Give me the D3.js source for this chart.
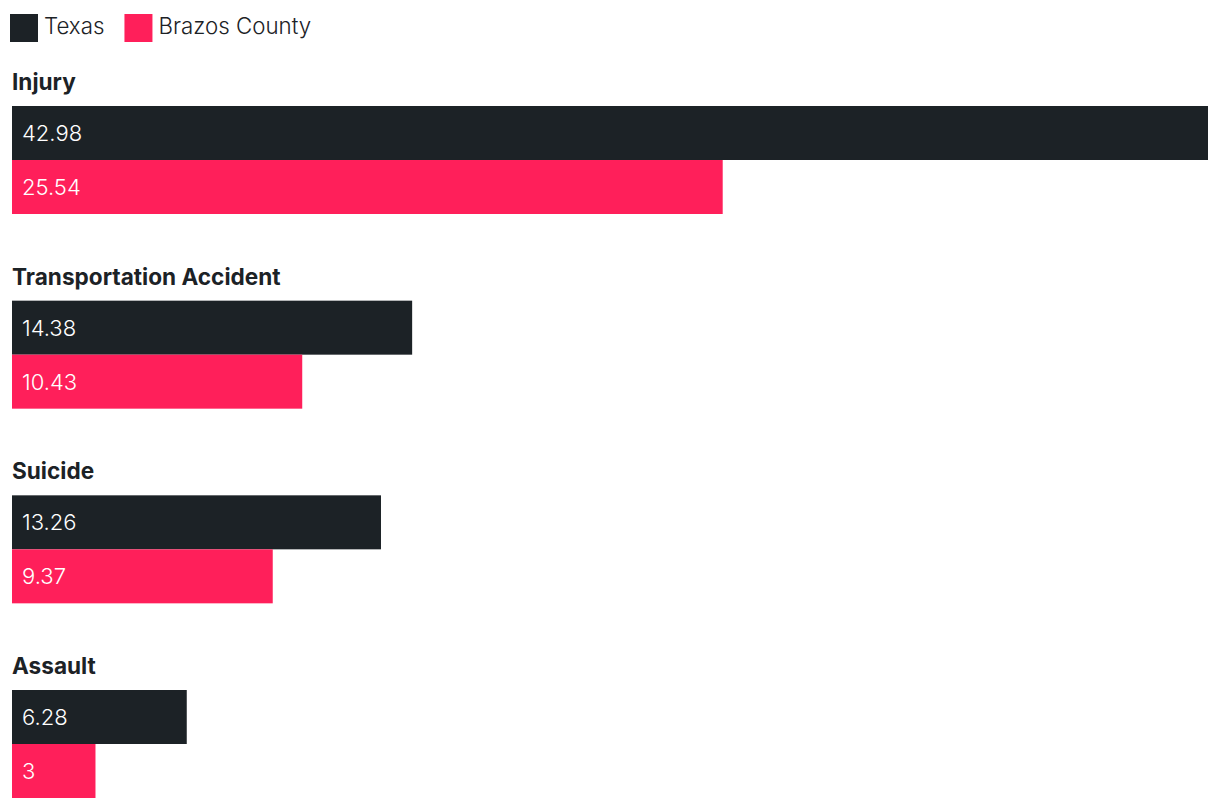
<!DOCTYPE html>
<html><head><meta charset="utf-8">
<script src="https://cdn.jsdelivr.net/npm/d3@7"></script>
<style>body{margin:0;background:#fff;}svg{display:block;font-family:Inter,"Noto Sans",sans-serif;}</style>
</head><body>
<svg id="c" width="1220" height="808"></svg>
<script>
const categories = ["Injury","Transportation Accident","Suicide","Assault"];
const seriesNames = ["Texas","Brazos County"];
const texasValues = [42.98,14.38,13.26,6.28];
const brazosValues = [25.54,10.43,9.37,3];
const colors = ["#1c2226","#ff1f5a"];

const svg = d3.select("#c");
const x = d3.scaleLinear().domain([0, d3.max(texasValues)]).range([12, 1208]);
const yGroup = d3.scalePoint().domain(categories).range([106, 690]);
const barH = 54;
const series = [texasValues, brazosValues];

// legend
let lx = 10;
seriesNames.forEach((n,i)=>{
  const g = svg.append("g");
  g.append("rect").attr("x",lx).attr("y",14).attr("width",28).attr("height",28).attr("fill",colors[i]);
  const t = g.append("text").attr("x",lx+34).attr("y",34).attr("font-size",22.3).attr("font-weight",300).attr("fill","#1c2226").text(n);
  lx += 34 + t.node().getComputedTextLength() + 20;
});

categories.forEach((c,ci)=>{
  const y0 = yGroup(c);
  svg.append("text").attr("x",12).attr("y",y0-16).attr("font-size",22.6).attr("font-weight",700).attr("fill","#1c2226").text(c);
  series.forEach((vals,si)=>{
    const yy = y0 + si*barH;
    svg.append("rect").attr("x",x(0)).attr("y",yy).attr("width",x(vals[ci])-x(0)).attr("height",barH).attr("fill",colors[si]);
    svg.append("text").attr("x",x(0)+10).attr("y",yy+35).attr("font-size",22).attr("font-weight",300).attr("fill","#fff").text(vals[ci]);
  });
});
</script>
</body></html>
